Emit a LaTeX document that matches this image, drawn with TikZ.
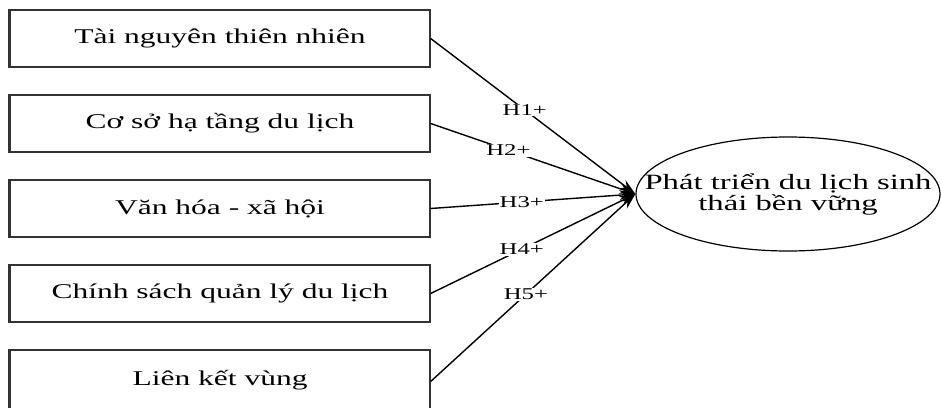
\documentclass[tikz,border=0pt]{standalone}
\usepackage{fontspec}
\setmainfont{Liberation Serif}[FakeStretch=1.5]
\usetikzlibrary{shapes.geometric,arrows.meta}

\tikzset{
  factor/.style={draw=black!80, line width=1.3pt, minimum width=420pt,
    minimum height=57pt, inner sep=0pt, font=\fontsize{21}{24}\selectfont},
  outcome/.style={ellipse, draw, line width=1.2pt, minimum width=304pt,
    minimum height=114pt, inner sep=0pt},
  outtext/.style={align=center, inner sep=0pt,
    font=\fontsize{21.8}{21}\selectfont},
  hyp/.style={-{Stealth[length=16pt,width=10pt]}, line width=1.4pt},
  hlabel/.style={fill=white, inner sep=1pt, font=\fontsize{16.5}{16.5}\selectfont},
}

\begin{document}
\begin{tikzpicture}[x=1pt,y=-1pt]
\useasboundingbox (0,0) rectangle (941,407);
% factors
\node[factor] (tn) at (220,38.5) {Tài nguyên thiên nhiên};
\node[factor] (cs) at (220,123.5) {Cơ sở hạ tầng du lịch};
\node[factor] (vh) at (220,208.5) {Văn hóa - xã hội};
\node[factor] (chs) at (220,293.5) {Chính sách quản lý du lịch};
\node[factor, minimum height=60pt] (lk) at (220,380) {Liên kết vùng};
\foreach \f in {tn,cs,vh,chs,lk}
  \draw[black!80, line width=2.4pt] (\f.north west) -- (\f.south west);
% outcome
\node[outcome, label={[outtext, name=ptt]center:Phát triển du lịch sinh\\thái bền vững}] (pt) at (788,194) {};
% hypotheses
\draw[hyp] (tn.east) -- node[hlabel, pos=0.46] {H1+} (pt.west);
\draw[hyp] (cs.east) -- node[hlabel, pos=0.38] {H2+} (pt.west);
\draw[hyp] (vh.east) -- node[hlabel, pos=0.445] {H3+} (pt.west);
\draw[hyp] (chs.east) -- node[hlabel, pos=0.445] {H4+} (pt.west);
\draw[hyp] ([yshift=-1.5pt]lk.east) -- node[hlabel, pos=0.465] {H5+} (pt.west);
\end{tikzpicture}
\end{document}
